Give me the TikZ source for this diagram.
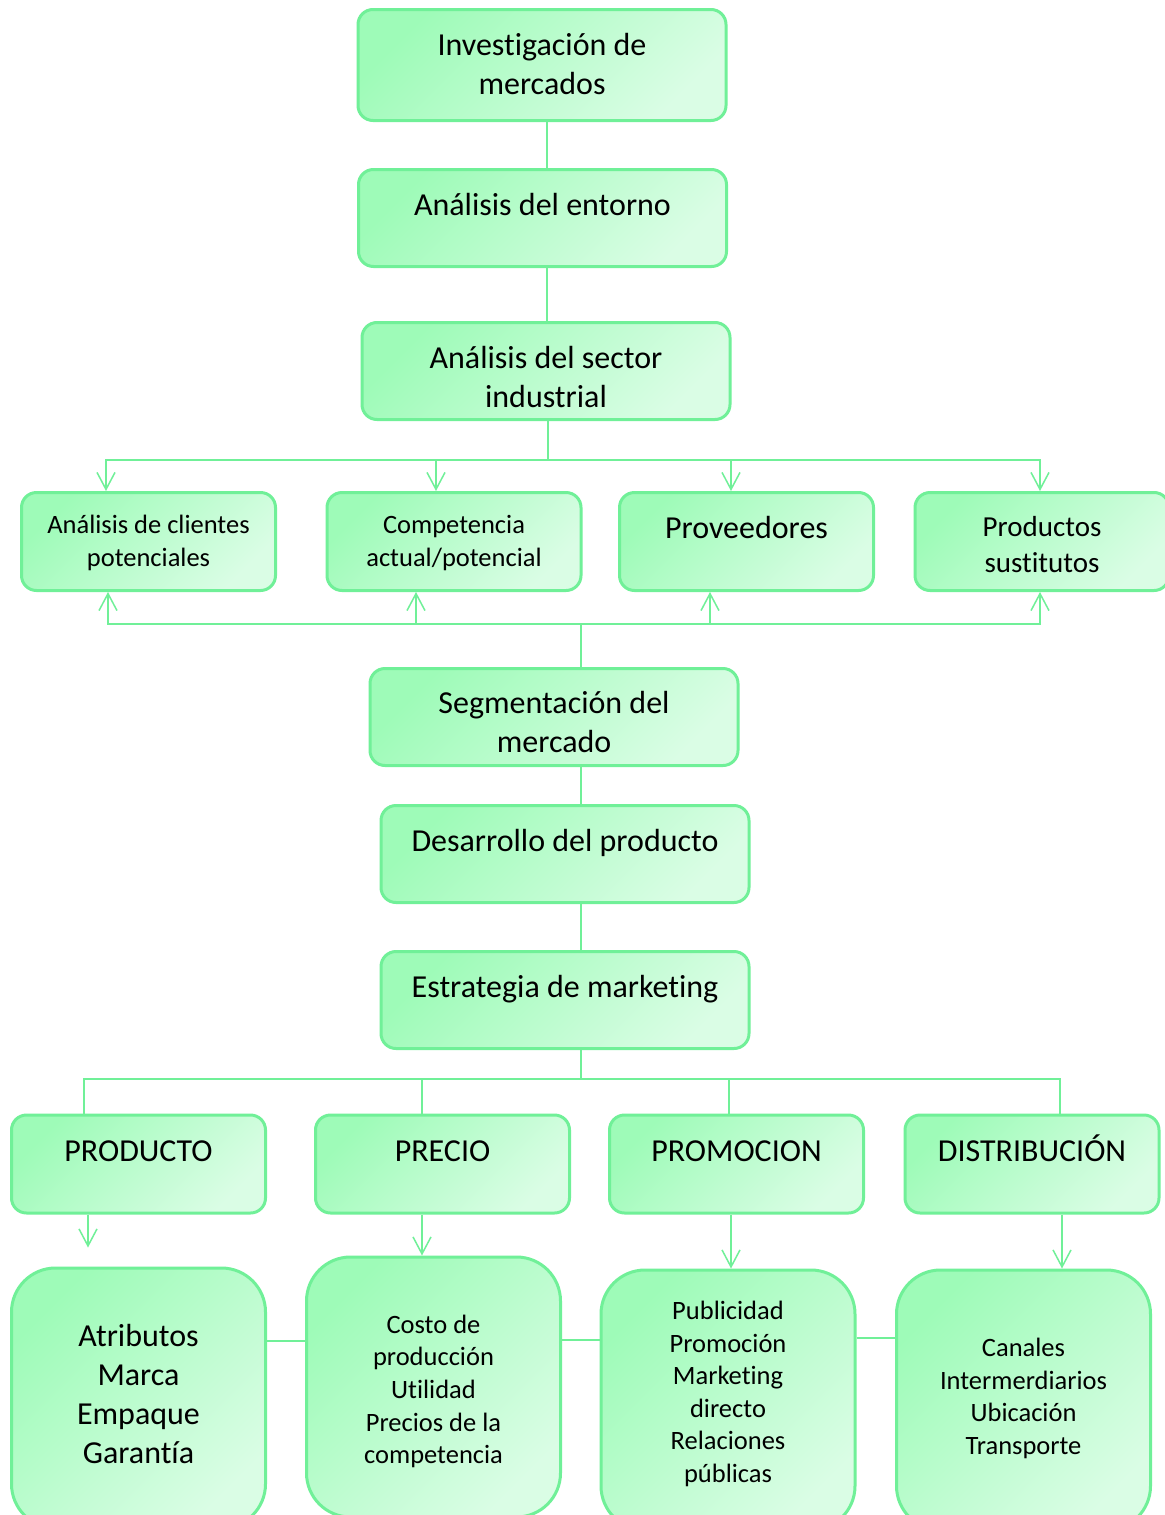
\documentclass[tikz,border=0pt]{standalone}
\usepackage{fontspec}
\setmainfont{Carlito}[Ligatures=NoCommon]
\usetikzlibrary{arrows.meta}
\definecolor{MintLine}{RGB}{112,240,152}
\definecolor{MintDark}{RGB}{158,251,184}
\definecolor{MintLight}{RGB}{218,253,229}

\begin{document}
\begin{tikzpicture}[
        % Environment Config
        x=0.5pt, y=-0.5pt,
        Box/.style={% Style for the boxes
          draw=MintLine,
          line width=1.5pt,
          rounded corners=7.5pt,
          top color=MintDark,
          bottom color=MintLight,
          shading angle=45,
          minimum width=127pt,
          minimum height=49pt,
          align=center,
          inner sep=2pt,
          font=\fontsize{16}{19.5}\selectfont
        },
        WideBox/.style={Box, minimum width=184pt, minimum height=48.5pt},
        TallBox/.style={Box, rounded corners=22pt, minimum height=130pt},
        OneLine/.style={text height=11pt, text depth=13.8pt},
        TextAt/.style={text depth=0pt, text height=#1},% places the lines
        Small/.style={font=\fontsize{13.25}{16.3}\selectfont},
        Link/.style={MintLine, line width=0.75pt},
        LinkArrow/.style={% Style for the arrows
          Link,
          -{Straight Barb[length=8.5pt,width=9pt]}
        }
      ]

      \useasboundingbox[fill=white] (0,0) rectangle (1165,1515);

      % Put the main chain
      \node[WideBox, minimum height=55.5pt, TextAt=29.74pt] (inv) at (542,65) {Investigación de\\mercados};
      \node[WideBox, OneLine] (ent) at (542.5,218) {Análisis del entorno};
      \node[WideBox, TextAt=36.24pt] (sec) at (546,371) {Análisis del sector\\industrial};

      % Put the four factors
      \node[Box, Small, TextAt=24.78pt] (cli) at (148.5,541.5) {Análisis de clientes\\potenciales};
      \node[Box, Small, TextAt=24.78pt] (comp) at (454,541.5) {Competencia\\actual/potencial};
      \node[Box, OneLine] (prov) at (746.5,541.5) {Proveedores};
      \node[Box, font=\fontsize{14.5}{18}\selectfont, TextAt=30.78pt] (sust) at (1042,541.5) {Productos\\sustitutos};

      \node[WideBox, TextAt=35.74pt] (seg) at (554,717) {Segmentación del\\mercado};
      \node[WideBox, OneLine] (des) at (565,854) {Desarrollo del producto};
      \node[WideBox, OneLine] (est) at (565,1000) {Estrategia de marketing};

      % Put the marketing mix
      \node[Box, OneLine] (prod) at (138.5,1164) {PRODUCTO};
      \node[Box, OneLine] (pre) at (442.5,1164) {PRECIO};
      \node[Box, OneLine] (pro) at (736.5,1164) {PROMOCION};
      \node[Box, OneLine] (dist) at (1032,1164) {DISTRIBUCIÓN};

      \node[TallBox, TextAt=65.74pt] (atr) at (138.5,1398) {Atributos\\Marca\\Empaque\\Garantía};
      \node[TallBox, Small, TextAt=76.68pt] (cost) at (433.5,1387) {Costo de\\producción\\Utilidad\\Precios de la\\competencia};
      \node[TallBox, Small, TextAt=82.48pt] (pub) at (728,1400) {Publicidad\\Promoción\\Marketing\\directo\\Relaciones\\públicas};
      \node[TallBox, Small, TextAt=54.38pt] (can) at (1023.5,1400) {Canales\\Intermerdiarios\\Ubicación\\Transporte};

      % Draw the wires
      %===Upper chain===
      \coordinate (SpineA) at (547,0);
      \draw[Link] (inv.south -| SpineA) -- (ent.north -| SpineA);
      \draw[Link] (ent.south -| SpineA) -- (sec.north -| SpineA);

      %===Sector to factors===
      \foreach \Target/\Shift in {cli/-21.25pt, comp/-9pt, prov/-7.75pt, sust/-1pt}{
        \draw[LinkArrow] (sec.south -| SpineA) ++(1,0) -- ++(0,39) -| ([xshift=\Shift]\Target.north);
      }

      %===Segmentation to factors===
      \coordinate (SpineB) at (581,0);
      \foreach \Target/\Shift in {cli/-20.25pt, comp/-19pt, prov/-18.25pt, sust/-1pt}{
        \draw[LinkArrow] (seg.north -| SpineB) -- ++(0,-43) -| ([xshift=\Shift]\Target.south);
      }
      \draw[Link] (seg.south -| SpineB) -- (des.north -| SpineB);
      \draw[Link] (des.south -| SpineB) -- (est.north -| SpineB);

      %===Strategy to mix===
      \foreach \Target/\Shift in {prod/-27.25pt, pre/-10.25pt, pro/-3.75pt, dist/14pt}{
        \draw[Link] (est.south -| SpineB) -- ++(0,29) -| ([xshift=\Shift]\Target.north);
      }

      %===Mix to details===
      \draw[LinkArrow] ([xshift=-25.25pt]prod.south) -- ++(0,33);
      \draw[LinkArrow] ([xshift=-10.25pt]pre.south) coordinate (tmp) -- (tmp |- cost.north);
      \draw[LinkArrow] ([xshift=-2.75pt]pro.south) coordinate (tmp) -- (tmp |- pub.north);
      \draw[LinkArrow] ([xshift=15pt]dist.south) coordinate (tmp) -- (tmp |- can.north);

      %===Side links===
      \draw[Link] ([yshift=28.5pt]atr.east) coordinate (tmp) -- (tmp -| cost.west);
      \draw[Link] ([yshift=23.5pt]cost.east) coordinate (tmp) -- (tmp -| pub.west);
      \draw[Link] ([yshift=31pt]pub.east) coordinate (tmp) -- (tmp -| can.west);

      \end{tikzpicture}
\end{document}
